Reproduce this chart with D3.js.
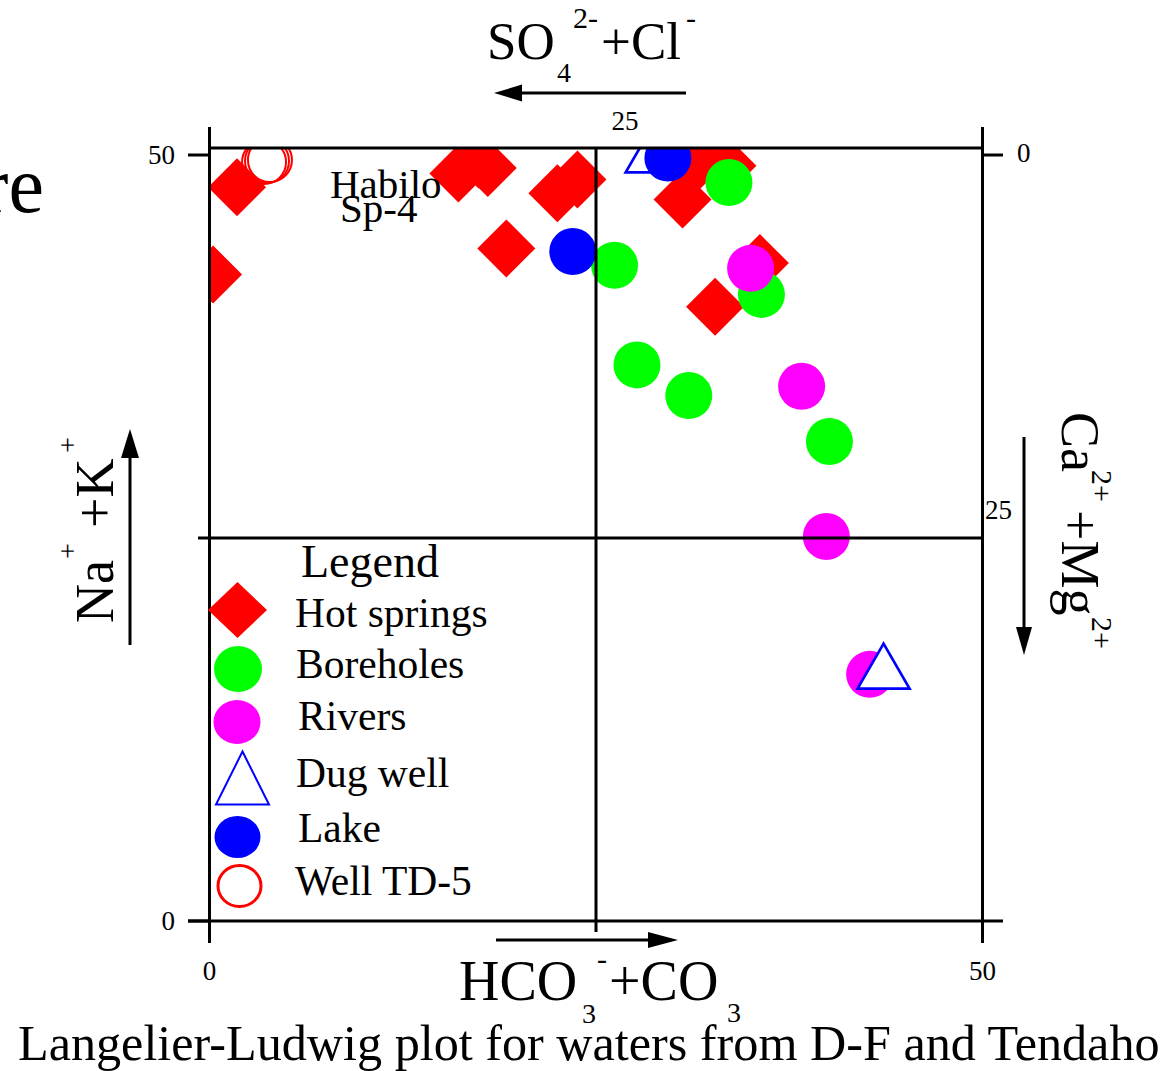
<!DOCTYPE html>
<html>
<head>
<meta charset="utf-8">
<script src="https://cdn.jsdelivr.net/npm/d3@7"></script>
<style>
  html, body { margin: 0; padding: 0; background: #fff; }
  svg { display: block; font-family: "Liberation Serif", "Times New Roman", serif; }
</style>
</head>
<body>
<svg id="chart" width="1173" height="1071"></svg>
<script>
// Langelier-Ludwig diagram, values in meq % : [HCO3+CO3, Na+K]
const hotSprings = [
  [1.78, 47.9], [0.23, 42.2], [16.1, 48.8], [17.4, 49.7], [18.0, 49.15],
  [22.5, 47.5], [23.8, 48.4], [19.2, 43.9], [30.6, 47.1], [31.6, 49.55],
  [33.5, 49.3], [35.6, 42.95], [32.7, 40.1]
];
const boreholes = [
  [33.6, 48.2], [26.2, 42.8], [35.7, 40.9], [27.65, 36.3], [31.0, 34.3], [40.1, 31.3]
];
const rivers = [
  [35.0, 42.6], [38.3, 34.9], [39.9, 25.1], [42.7, 16.1]
];
const dugWell = [
  [43.6, 16.6], [28.6, 50.3]
];
const lake = [
  [29.65, 49.8], [23.5, 43.7]
];
const wellTD5 = [
  [3.53, 49.54], [3.72, 49.61], [3.91, 49.67]
];

const legendLabels = ["Hot springs", "Boreholes", "Rivers", "Dug well", "Lake", "Well TD-5"];
const leftTicks = [0, 50];    // Na+K
const bottomTicks = [0, 50];  // HCO3+CO3
const topTicks = [25];        // SO4+Cl
const rightTicks = [0, 25];   // Ca+Mg

const svg = d3.select("#chart");

const x = d3.scaleLinear().domain([0, 50]).range([209.5, 982.5]);
const y = d3.scaleLinear().domain([0, 50]).range([921, 155]);
// complementary scales for the opposite axes
const xTop = d3.scaleLinear().domain([50, 0]).range([209.5, 982.5]);
const yRight = d3.scaleLinear().domain([50, 0]).range([921, 155]);
const FRAME_TOP = 50.45;

// ---- markers, clipped to the frame ----
svg.append("defs").append("clipPath").attr("id", "plotClip")
  .append("rect")
  .attr("x", x(0)).attr("y", y(FRAME_TOP))
  .attr("width", x(50) - x(0)).attr("height", y(0) - y(FRAME_TOP));

const marks = svg.append("g").attr("clip-path", "url(#plotClip)");

const diamond = (h) => `M0,${-h}L${h},0L0,${h}L${-h},0Z`;
const triangle = (w, hTop, hBot) => `M0,${-hTop}L${w},${hBot}L${-w},${hBot}Z`;

marks.selectAll(".td5").data(wellTD5).join("circle")
  .attr("cx", d => x(d[0])).attr("cy", d => y(d[1])).attr("r", 22)
  .attr("fill", "none").attr("stroke", "#ff0000").attr("stroke-width", 2);

marks.selectAll(".hs").data(hotSprings).join("path")
  .attr("transform", d => `translate(${x(d[0])},${y(d[1])})`)
  .attr("d", diamond(29)).attr("fill", "#ff0000");

marks.selectAll(".bh").data(boreholes).join("circle")
  .attr("cx", d => x(d[0])).attr("cy", d => y(d[1])).attr("r", 23.5)
  .attr("fill", "#00ff00");

marks.selectAll(".rv").data(rivers).join("circle")
  .attr("cx", d => x(d[0])).attr("cy", d => y(d[1])).attr("r", 23.5)
  .attr("fill", "#ff00ff");

marks.selectAll(".dw").data(dugWell).join("path")
  .attr("transform", d => `translate(${x(d[0])},${y(d[1])})`)
  .attr("d", triangle(26, 23, 22)).attr("fill", "#fff")
  .attr("stroke", "#0000ff").attr("stroke-width", 2.7);

marks.selectAll(".lk").data(lake).join("circle")
  .attr("cx", d => x(d[0])).attr("cy", d => y(d[1])).attr("r", 23.5)
  .attr("fill", "#0000ff");

// ---- frame and quadrant lines ----
const lines = svg.append("g").attr("stroke", "#000").attr("stroke-width", 3).attr("fill", "none");
const seg = (x1, y1, x2, y2) => lines.append("line").attr("x1", x1).attr("y1", y1).attr("x2", x2).attr("y2", y2);
seg(x(0), y(FRAME_TOP), x(50), y(FRAME_TOP));
seg(188, y(0), 1003, y(0));
seg(x(0), 127, x(0), 943);
seg(x(50), 127, x(50), 942);
seg(198, y(25), x(50), y(25));
seg(x(25), y(FRAME_TOP), x(25), 932);

// ---- ticks and tick labels ----
const tickG = svg.append("g").attr("font-size", 27).attr("fill", "#000");
leftTicks.forEach(v => {
  seg(188, y(v), x(0), y(v));
  tickG.append("text").attr("x", 175).attr("y", y(v) + 8.5).attr("text-anchor", "end").text(v);
});
bottomTicks.forEach(v => {
  seg(x(v), y(0), x(v), 943);
  tickG.append("text").attr("x", x(v)).attr("y", 980).attr("text-anchor", "middle").text(v);
});
topTicks.forEach(v => {
  tickG.append("text").attr("x", xTop(v) + 29).attr("y", 130).attr("text-anchor", "middle").text(v);
});
rightTicks.forEach(v => {
  if (v === 0) {
    seg(x(50), yRight(v), 1003, yRight(v));
    tickG.append("text").attr("x", 1017).attr("y", yRight(v) + 7).text(v);
  } else {
    tickG.append("text").attr("x", 985).attr("y", yRight(v) - 19).text(v);
  }
});

// ---- direction arrows ----
function arrow(x1, y1, x2, y2, len, half) {
  const dx = x2 - x1, dy = y2 - y1, L = Math.hypot(dx, dy);
  const ux = dx / L, uy = dy / L;
  const bx = x2 - ux * len, by = y2 - uy * len;
  svg.append("line").attr("x1", x1).attr("y1", y1).attr("x2", bx + ux * 2).attr("y2", by + uy * 2)
    .attr("stroke", "#000").attr("stroke-width", 3);
  svg.append("path")
    .attr("d", `M${x2},${y2}L${bx - uy * half},${by + ux * half}L${bx + uy * half},${by - ux * half}Z`)
    .attr("fill", "#000");
}
arrow(686, 93, 494, 93, 28, 8.5);
arrow(496, 940, 678, 940, 30, 8);
arrow(130, 645, 130, 429, 29, 9);
arrow(1024, 437, 1024, 655, 28, 8);

// ---- axis titles ----
const txt = (g, s, tx, ty, fs) => g.append("text").attr("x", tx).attr("y", ty).attr("font-size", fs).attr("fill", "#000").text(s);

const topTitle = svg.append("g");
txt(topTitle, "SO", 487, 59, 53);
txt(topTitle, "4", 557, 82, 28);
txt(topTitle, "2-", 573, 28, 30);
txt(topTitle, "+Cl", 601, 59, 53);
txt(topTitle, "-", 686, 28, 30);

const botTitle = svg.append("g");
txt(botTitle, "HCO", 459, 1000, 56);
txt(botTitle, "3", 582, 1023, 28);
txt(botTitle, "-", 597, 969, 30);
txt(botTitle, "+CO", 609, 1000, 56);
txt(botTitle, "3", 727, 1022, 28);

const leftTitle = svg.append("g").attr("transform", "translate(113,623) rotate(-90)");
txt(leftTitle, "Na", 0, 0, 54);
txt(leftTitle, "+", 64, -36, 28);
txt(leftTitle, "+K", 95, 0, 54);
txt(leftTitle, "+", 170, -36, 28);

const rightTitle = svg.append("g").attr("transform", "translate(1062,412) rotate(90)");
txt(rightTitle, "Ca", 0, 0, 54);
txt(rightTitle, "2+", 58, -30, 30);
txt(rightTitle, "+Mg", 98, 0, 54);
txt(rightTitle, "2+", 205, -30, 30);

// ---- sample annotations ----
txt(svg, "Habilo", 330, 198, 41);
txt(svg, "Sp-4", 340, 222, 41);
txt(svg, "re", 44, 212, 80).attr("text-anchor", "end");

// ---- legend ----
txt(svg, "Legend", 301, 577, 46);
const rowsY = [610, 669, 722, 778, 837, 886];
const textY = [627, 678, 730, 787, 842, 895];
const textX = [295, 296, 298, 296, 298, 295];
const lg = svg.append("g");
lg.append("path").attr("transform", `translate(237.5,${rowsY[0]})`).attr("d", "M0,-28L29.5,0L0,28L-29.5,0Z").attr("fill", "#ff0000");
lg.append("ellipse").attr("cx", 238).attr("cy", rowsY[1]).attr("rx", 24).attr("ry", 23).attr("fill", "#00ff00");
lg.append("ellipse").attr("cx", 237).attr("cy", rowsY[2]).attr("rx", 23.5).attr("ry", 22).attr("fill", "#ff00ff");
lg.append("path").attr("transform", `translate(242.5,${rowsY[3]})`).attr("d", triangle(26.5, 26.5, 26.5))
  .attr("fill", "#fff").attr("stroke", "#0000ff").attr("stroke-width", 2);
lg.append("ellipse").attr("cx", 237.5).attr("cy", rowsY[4]).attr("rx", 23).attr("ry", 21).attr("fill", "#0000ff");
lg.append("ellipse").attr("cx", 239.5).attr("cy", rowsY[5]).attr("rx", 21.5).attr("ry", 20.5)
  .attr("fill", "none").attr("stroke", "#ff0000").attr("stroke-width", 3);
legendLabels.forEach((s, i) => txt(lg, s, textX[i], textY[i], 41.5));

// ---- caption ----
txt(svg, "Langelier-Ludwig plot for waters from D-F and Tendaho", 18, 1060, 50.2);
</script>
</body>
</html>
